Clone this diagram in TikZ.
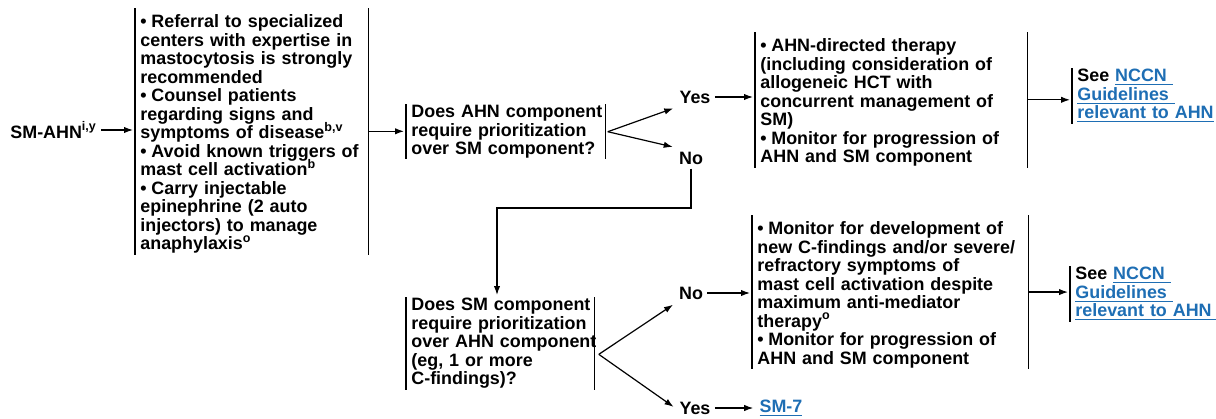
\documentclass[tikz,border=0pt]{standalone}
\usepackage{fontspec}
\setmainfont{Liberation Sans}
\usetikzlibrary{arrows.meta}
\definecolor{linkblue}{RGB}{30,110,180}
\newcommand{\bitem}[1]{\par\noindent\hangindent=5.5pt\hangafter=1\hbox to 5.5pt{\textbullet\hss}#1}
\newcommand{\lnk}[1]{\textcolor{linkblue}{\underline{#1}}}

\begin{document}
\begin{tikzpicture}[x=0.5pt,y=-0.5pt,
  txt/.style={anchor=north west, inner xsep=2.5pt, inner ysep=0.4pt, align=left,
    font=\fontsize{8.95}{9.25}\selectfont\bfseries,
    execute at begin node={\lineskiplimit=-5pt\hyphenpenalty=10000\relax}},
  lbl/.style={inner sep=2pt, font=\fontsize{8.95}{9.25}\selectfont\bfseries},
  arr/.style={-{Latex[length=4.5pt,width=3.2pt]}, line width=0.6pt, shorten >=1pt},
  bar/.style={line width=0.6pt}]
\useasboundingbox (0,0) rectangle (1216,418);
\node[lbl, anchor=west] (smahn) at (6,130) {SM-AHN\textsuperscript{i,y}};
\node[txt, text width=111.5pt] (care) at (135,8) {\bitem{Referral to specialized\\centers~with~expertise~in\\mastocytosis~is~strongly\\recommended}\bitem{Counsel patients\\regarding signs and\\symptoms~of~disease\textsuperscript{b,v}}\bitem{Avoid~known~triggers~of\\mast cell activation\textsuperscript{b}}\bitem{Carry injectable\\epinephrine (2 auto\\injectors) to manage\\anaphylaxis\textsuperscript{o}}};
\node[txt, text width=94.5pt] (ahnq) at (406,104) {Does~AHN~component\\require prioritization\\over~SM~component?};
\node[lbl] (yes1) at (695,97) {Yes};
\node[lbl] (no1) at (691,158) {No};
\node[txt, text width=131pt] (ahnrx) at (755,32) {\bitem{AHN-directed therapy\\(including~consideration~of\\allogeneic HCT with\\concurrent~management~of\\SM)}\bitem{Monitor~for~progression~of\\AHN and SM component}};
\node[txt, text width=68pt] (seeA) at (1072,68) {See \lnk{NCCN }\\\lnk{Guidelines }\\\lnk{relevant~to~AHN}};
\coordinate (turn) at (497,208);
\node[txt, text width=89pt] (smq) at (406,297) {Does~SM~component\\require prioritization\\over~AHN~component\\(eg, 1 or more\\C-findings)?};
\node[lbl] (no2) at (691,293) {No};
\node[lbl] (yes2) at (695,408) {Yes};
\node[txt, text width=133pt] (smmon) at (752,215) {\bitem{Monitor~for~development~of\\new~C-findings~and/or~severe/\\refractory symptoms of\\mast~cell~activation~despite\\maximum anti-mediator\\therapy\textsuperscript{o}}\bitem{Monitor~for~progression~of\\AHN and SM component}};
\node[txt, text width=68pt] (seeB) at (1070,266) {See \lnk{NCCN }\\\lnk{Guidelines }\\\lnk{relevant~to~AHN }};
\node[lbl] (sm7) at (781,408) {\lnk{SM-7}};
\foreach \b in {care,ahnq,ahnrx,smq,smmon}
  \draw[bar] (\b.north west) -- (\b.south west) (\b.north east) -- (\b.south east);
\foreach \b in {seeA,seeB}
  \draw[bar] (\b.north west) -- (\b.south west);
\draw[arr] (smahn.east) -- (smahn.east -| care.west);
\draw[arr] (care.east) -- (care.east -| ahnq.west);
\draw[arr] ([xshift=1pt]ahnq.east) -- (yes1.south west);
\draw[arr] ([xshift=1pt]ahnq.east) -- (no1.north west);
\draw[arr] (yes1.east) -- (yes1.east -| ahnrx.west);
\draw[arr] (ahnrx.east) -- (ahnrx.east -| seeA.west);
\draw[arr] (no1.south) |- (turn) -- (turn |- smq.north);
\draw[arr] ([xshift=2pt,yshift=-5.5pt]smq.east) -- (no2.south west);
\draw[arr] ([xshift=2pt,yshift=-5.5pt]smq.east) -- (yes2.west);
\draw[arr] (no2.east) -- (no2.east -| smmon.west);
\draw[arr] (smmon.east) -- (smmon.east -| seeB.west);
\draw[arr] (yes2.east) -- (sm7.west);
\end{tikzpicture}
\end{document}
